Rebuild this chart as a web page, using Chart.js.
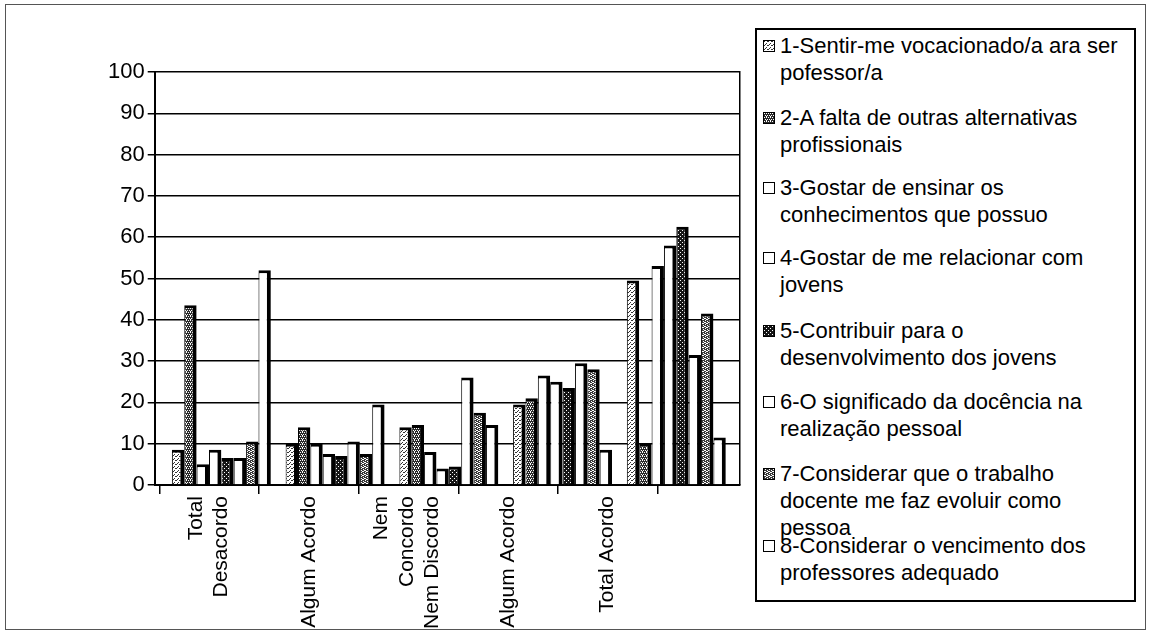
<!DOCTYPE html>
<html><head><meta charset="utf-8">
<script src="https://cdn.jsdelivr.net/npm/chart.js@4.4.0/dist/chart.umd.min.js"></script>
<style>
html,body{margin:0;padding:0;background:#fff;}
#page{position:relative;width:1150px;height:637px;overflow:hidden;font-family:"Liberation Sans",Arial,sans-serif;background:#fff;}
#frame{position:absolute;left:5px;top:4px;width:1141px;height:626px;border:1px solid #555;box-sizing:border-box;}
#chartWrap{position:absolute;left:0;top:0;width:750px;height:637px;}
#legend{position:absolute;left:755px;top:28px;width:381px;height:574px;border:2px solid #000;box-sizing:border-box;background:#fff;}
.item{position:absolute;left:0;}
.icon{position:absolute;left:6px;top:8px;width:12px;height:12px;border:1px solid #000;box-sizing:border-box;background-color:#fff;}
.txt{position:absolute;left:23px;top:0;font-size:22px;line-height:27px;color:#000;white-space:nowrap;}
</style></head>
<body>
<div id="page">
  <div id="frame"></div>
  <div id="chartWrap"><canvas id="c" width="750" height="637"></canvas></div>
  <div id="legend"></div>
</div>
<script>
// ---- data ----
const categories = [['Total','Desacordo'], 'Algum Acordo', ['Nem','Concordo','Nem Discordo'], 'Algum Acordo', 'Total Acordo'];
const seriesLabels = [
  ['1-Sentir-me vocacionado/a ara ser','pofessor/a'],
  ['2-A falta de outras alternativas','profissionais'],
  ['3-Gostar de ensinar os','conhecimentos que possuo'],
  ['4-Gostar de me relacionar com','jovens'],
  ['5-Contribuir para o','desenvolvimento dos jovens'],
  ['6-O significado da docência na','realização pessoal'],
  ['7-Considerar que o trabalho','docente me faz evoluir como','pessoa'],
  ['8-Considerar o vencimento dos','professores adequado']
];
const s1 = [8.5, 10, 14, 19.5, 49.5];
const s2 = [43.5, 14, 14.5, 21, 10];
const s3 = [5, 10, 8, 26.5, 53];
const s4 = [8.5, 7.5, 4, 25, 58];
const s5 = [6.5, 7, 4.5, 23.5, 62.5];
const s6 = [6.5, 10.5, 26, 29.5, 31.5];
const s7 = [10.5, 7.5, 17.5, 28, 41.5];
const s8 = [52, 19.5, 14.5, 8.5, 11.5];
const yTicks = [0,10,20,30,40,50,60,70,80,90,100];
const seriesValues = [s1,s2,s3,s4,s5,s6,s7,s8];

// ---- patterns ----
function makeTile(bg, fg, pts){
  const c = document.createElement('canvas'); c.width = 4; c.height = 4;
  const g = c.getContext('2d'); g.fillStyle = bg; g.fillRect(0,0,4,4);
  g.fillStyle = fg; pts.forEach(p => g.fillRect(p[0],p[1],1,1));
  return c;
}
const tiles = {
  light: makeTile('#ffffff', '#333333', [[0,0],[2,2],[3,0],[1,3]]),
  dark2: makeTile('#2a2a2a', '#ffffff', [[0,0],[2,0],[1,2],[3,2],[2,3]]),
  dark5: makeTile('#161616', '#ffffff', [[0,0],[2,2]]),
  dark7: makeTile('#3a3a3a', '#ffffff', [[1,0],[3,1],[0,2],[2,3],[3,3],[1,2]])
};
const ctxMain = document.getElementById('c').getContext('2d');
const fillKind = ['light','dark2','white','white','dark5','white','dark7','white'];
function fillFor(k){ return k === 'white' ? '#ffffff' : ctxMain.createPattern(tiles[k], 'repeat'); }

// ---- legend (HTML) ----
const legendTops = [1.5, 73.5, 143.5, 213.5, 286.5, 357.5, 429.5, 501.5];
const legend = document.getElementById('legend');
seriesLabels.forEach((lines, i) => {
  const it = document.createElement('div'); it.className = 'item'; it.style.top = legendTops[i] + 'px';
  const ic = document.createElement('div'); ic.className = 'icon';
  if (fillKind[i] !== 'white') { ic.style.backgroundImage = 'url(' + tiles[fillKind[i]].toDataURL() + ')'; }
  const tx = document.createElement('div'); tx.className = 'txt'; tx.innerHTML = lines.join('<br>');
  it.appendChild(ic); it.appendChild(tx); legend.appendChild(it);
});

// ---- chart ----
const datasets = seriesValues.map((vals, i) => ({
  label: seriesLabels[i].join(' '),
  data: vals.map((v, j) => ({x: j, y: v})),
  backgroundColor: fillFor(fillKind[i]),
  borderColor: '#000',
  borderWidth: {top: 3, right: 4, bottom: 0, left: 1},
  borderSkipped: false,
  categoryPercentage: 0.87,
  barPercentage: 1.0,
  xAxisID: 'x', yAxisID: 'y'
}));

const LH_UNITS = 0.27;
Chart.defaults.font.family = '"Liberation Sans", Arial, sans-serif';
new Chart(ctxMain, {
  type: 'bar',
  data: { datasets },
  options: {
    responsive: false, animation: false,
    layout: { padding: { left: 105, top: 72, right: 10, bottom: 6 } },
    plugins: { legend: { display: false }, tooltip: { enabled: false } },
    scales: {
      x: {
        type: 'linear', display: false, offset: false, min: -0.586, max: 4.56,
        afterBuildTicks: (scale) => { scale.ticks = categories.map((c, i) => ({value: i})); }
      },
      x2: {
        type: 'linear', position: 'bottom', offset: false, min: -0.05, max: 5.83,
        afterBuildTicks: (scale) => {
          const t = [];
          for (let k = 0; k <= categories.length; k++) t.push({value: k});
          categories.forEach((c, i) => {
            const n = Array.isArray(c) ? c.length : 1;
            t.push({value: i + 0.5 - (n - 1) / 2 * LH_UNITS, cat: i});
          });
          t.sort((a, b) => a.value - b.value);
          scale.ticks = t;
        },
        ticks: {
          autoSkip: false, minRotation: 90, maxRotation: 90, padding: 2,
          color: '#000', font: { size: 21 },
          callback: (v, idx, ticks) => ticks[idx].cat === undefined ? '' : categories[ticks[idx].cat]
        },
        grid: {
          display: true, offset: false, drawOnChartArea: false, drawTicks: true, tickLength: 9, lineWidth: 1.5,
          color: (c) => (c.tick && c.tick.cat === undefined) ? '#000' : 'rgba(0,0,0,0)'
        },
        border: { display: true, color: '#000', width: 2 }
      },
      y: {
        type: 'linear', position: 'left', min: 0, max: 100,
        afterBuildTicks: (scale) => { scale.ticks = yTicks.map(v => ({value: v})); },
        ticks: { color: '#000', font: { size: 22 }, padding: 3 },
        grid: { color: '#000', lineWidth: 1.5, tickLength: 7, drawTicks: true },
        border: { display: true, color: '#000', width: 2 }
      },
      y2: {
        type: 'linear', position: 'right', min: 0, max: 100,
        ticks: { display: false }, grid: { display: false, drawTicks: false, tickLength: 0 },
        border: { display: true, color: '#000', width: 1.5 }
      }
    }
  }
});
</script>
</body></html>
